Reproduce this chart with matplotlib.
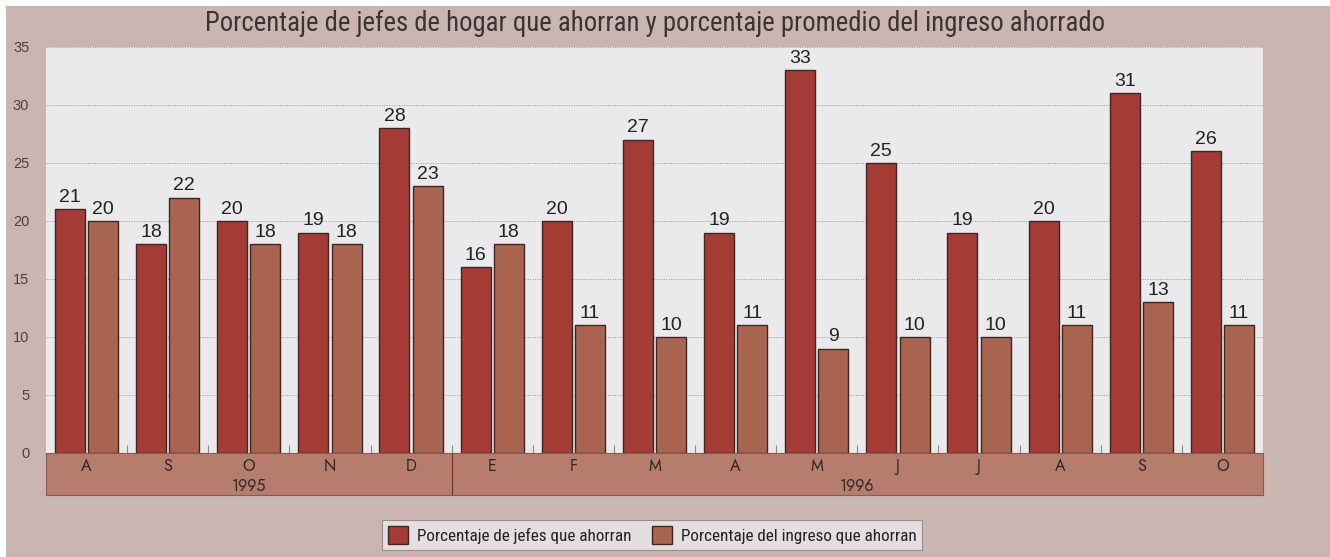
import matplotlib.pyplot as plt
import numpy as np
from matplotlib.patches import Rectangle

# Data
meses = ['A', 'S', 'O', 'N', 'D', 'E', 'F', 'M', 'A', 'M', 'J', 'J', 'A', 'S', 'O']
jefes = [21, 18, 20, 19, 28, 16, 20, 27, 19, 33, 25, 19, 20, 31, 26]
ingreso = [20, 22, 18, 18, 23, 18, 11, 10, 11, 9, 10, 10, 11, 13, 11]
anios = ['1995', '1996']
yticks = [0, 5, 10, 15, 20, 25, 30, 35]

col_bg = '#cab5b0'
col_plot = '#eae9ec'
col_band = '#b67d6d'
col_jefes = '#a53b35'
col_ingreso = '#a9644f'
col_text = '#3a3434'
narrow = ['Roboto Condensed', 'DejaVu Sans']
futura = ['Jost', 'DejaVu Sans']

fig = plt.figure(figsize=(13.3, 5.57), dpi=100, facecolor='white')
fig.patches.append(Rectangle((6 / 1330, 0), 1, 1 - 6 / 557, transform=fig.transFigure,
                             facecolor=col_bg, edgecolor='none', zorder=-10))

ax = fig.add_axes([46 / 1330, 1 - 453 / 557, (1263 - 46) / 1330, (453 - 47) / 557])
ax.set_facecolor(col_plot)
x = np.arange(len(meses)) + 0.5
w = 0.37
b1 = ax.bar(x - 0.205, jefes, w, color=col_jefes, edgecolor='#3b2826', linewidth=1.0, zorder=3)
b2 = ax.bar(x + 0.205, ingreso, w, color=col_ingreso, edgecolor='#3b2826', linewidth=1.0, zorder=3)
for bars, vals in ((b1, jefes), (b2, ingreso)):
    for r, v in zip(bars, vals):
        ax.text(r.get_x() + r.get_width() / 2, v + 0.3, str(v), ha='center', va='bottom',
                fontsize=14, color='#222222', family='Liberation Sans', zorder=4)

ax.set_xlim(0, len(meses))
ax.set_ylim(0, 35)
ax.set_yticks(yticks)
ax.set_yticklabels([str(t) for t in yticks], fontsize=10.5, color='#4a4444', family='Liberation Sans')
ax.tick_params(axis='y', length=0, pad=12)
ax.set_xticks(np.arange(1, len(meses)))
ax.set_xticklabels([])
ax.tick_params(axis='x', direction='in', length=6, color='#888888')
ax.yaxis.grid(True, linestyle=(0, (1, 1.5)), color='#9a9a9a', linewidth=0.7, zorder=0)
for s in ax.spines.values():
    s.set_visible(False)

# Month / year band under the plot
band = fig.add_axes([46 / 1330, 1 - 495 / 557, (1263 - 46) / 1330, (495 - 453) / 557])
band.set_facecolor(col_band)
band.set_xlim(0, len(meses))
band.set_ylim(0, 1)
band.set_xticks([])
band.set_yticks([])
for s in band.spines.values():
    s.set_color('#8a5a4e')
    s.set_linewidth(0.8)
for xi, m in zip(x, meses):
    band.text(xi, 0.67, m, ha='center', va='center', fontsize=11.5, color='#2e2a2a', family=futura)
band.text(2.5, 0.2, anios[0], ha='center', va='center', fontsize=11.5, color='#2e2a2a', family=futura)
band.text(10.0, 0.2, anios[1], ha='center', va='center', fontsize=11.5, color='#2e2a2a', family=futura)
band.axvline(5, color='#5a3a34', linewidth=0.8)

fig.text(655 / 1330, 1 - 23 / 557,
         'Porcentaje de jefes de hogar que ahorran y porcentaje promedio del ingreso ahorrado',
         ha='center', va='center', fontsize=19.3, color=col_text, family=narrow)

leg = fig.legend([b1, b2], ['Porcentaje de jefes que ahorran', 'Porcentaje del ingreso que ahorran'],
                 loc='center', bbox_to_anchor=(652 / 1330, 1 - 535 / 557), ncol=2,
                 frameon=True, fancybox=False, handlelength=1.2, handleheight=1.2,
                 handletextpad=0.5, columnspacing=1.2, borderpad=0.35,
                 prop={'family': narrow, 'size': 12.3})
leg.get_frame().set_facecolor(col_plot)
leg.get_frame().set_edgecolor('#8a8080')
leg.get_frame().set_linewidth(0.8)
for t in leg.get_texts():
    t.set_color('#222222')

fig.savefig('out.png', dpi=100, facecolor=fig.get_facecolor())
